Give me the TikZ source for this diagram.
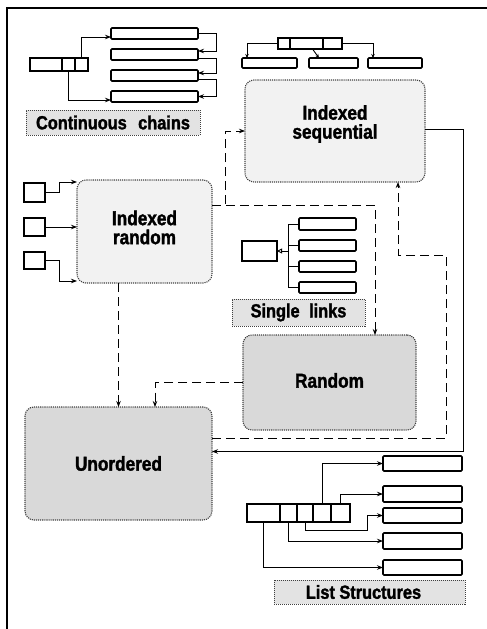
\documentclass[tikz,border=0pt]{standalone}
\usepackage{fontspec}
\newfontfamily\labfont[FakeStretch=0.86,FakeBold=1.6]{Liberation Sans Bold}
\usetikzlibrary{arrows.meta,fit,calc}
\begin{document}
\begin{tikzpicture}[x=1pt,y=-1pt,
 conn/.style={line width=0.9pt},
 arr/.style={conn,-{Stealth[length=6pt,width=4.5pt]}},
 sarr/.style={conn,-{Stealth[length=4pt,width=3.5pt]}},
 openarr/.style={conn,-{Triangle[open,length=5pt,width=5pt]}},
 dsh/.style={conn,dash pattern=on 9pt off 5pt},
 darr/.style={dsh,-{Stealth[length=6pt,width=4.5pt]}},
 cellbox/.style={draw,line width=1.1pt,inner sep=0pt,outer sep=0pt},
 barbox/.style={draw,line width=1.7pt,rounded corners=1pt,inner sep=0pt,outer sep=0pt},
 bigbox/.style={draw=black!75,densely dotted,line width=1.1pt,rounded corners=9pt,inner sep=0pt,outer sep=0pt},
 bigtext/.style={font=\labfont\fontsize{20}{19}\selectfont,align=center},
 labtext/.style={font=\labfont\fontsize{19}{19}\selectfont},
 lightbox/.style={bigbox,fill=black!5},
 darkbox/.style={bigbox,fill=black!15},
 labbox/.style={draw=black!75,densely dotted,line width=1pt,fill=black!11,inner sep=0pt,outer sep=0pt},
]
\useasboundingbox (0,0) rectangle (487,629);
% frame
\draw[line width=1.3pt] (7,629) -- (7,8) -- (487,8);

% ---------- Continuous chains ----------
\node[cellbox,fit={(30,58) (62,71)}] (cc0) {};
\node[cellbox,fit={(62,58) (75,71)}] (cc1) {};
\node[cellbox,fit={(75,58) (88,71)}] (cc2) {};
\node[barbox,fit={(111,28) (198,39)}] (cb1) {};
\node[barbox,fit={(111,49) (198,60)}] (cb2) {};
\node[barbox,fit={(111,70) (198,81)}] (cb3) {};
\node[barbox,fit={(111,91) (198,102)}] (cb4) {};
\draw[arr] (cc2.north) |- ([yshift=2pt]cb1.south west);
\draw[arr] (cc1.south) |- ([yshift=2pt]cb4.south west);
\draw[arr] (cb1.east) -- ++(18,0) |- ([yshift=-2pt]cb2.north east);
\draw[arr] ([yshift=2pt]cb2.south east) -- ++(18,0) |- ([yshift=-3pt]cb3.north east);
\draw[arr] ([yshift=2pt]cb3.south east) -- ++(18,0) |- (cb4.east);
\node[labbox,fit={(26,110) (200,135)},label={[labtext]center:Continuous\hspace{0.6em}chains}] (ccl) {};

% ---------- Indexed sequential structure ----------
\node[cellbox,fit={(278,38) (290,49)}] (is0) {};
\node[cellbox,fit={(290,38) (323,49)}] (is1) {};
\node[cellbox,fit={(323,38) (342,49)}] (is2) {};
\node[barbox,fit={(242,58) (297,68)}] (isb1) {};
\node[barbox,fit={(309,58) (358,68)}] (isb2) {};
\node[barbox,fit={(368,58) (422,68)}] (isb3) {};
\draw[sarr] (is0.west) -| ([xshift=5pt]isb1.north west);
\draw[sarr] ([xshift=6pt]is1.south) -- ([xshift=10pt]isb2.north west);
\draw[sarr] (is2.east) -| ([xshift=5pt]isb3.north west);

% ---------- big boxes ----------
\node[lightbox,fit={(245,80) (425,182)},label={[bigtext,yshift=7pt]center:Indexed\\sequential}] (IS) {};
\node[lightbox,fit={(77,180) (212,283)},label={[bigtext,yshift=4pt]center:Indexed\\random}] (IR) {};
\node[darkbox,fit={(243,335) (416,430)},label={[bigtext,yshift=2pt]center:Random}] (RD) {};
\node[darkbox,fit={(25,407) (212,520)},label={[bigtext]center:Unordered}] (UO) {};

% ---------- index squares for Indexed random ----------
\node[cellbox,fit={(24,183) (45,202)}] (sq1) {};
\node[cellbox,fit={(24,218) (45,236)}] (sq2) {};
\node[cellbox,fit={(24,252) (45,269)}] (sq3) {};
\draw[arr] (sq1.east) -- ++(14,0) |- ([yshift=-2pt]IR.north west);
\draw[arr] (sq2.east) -- (sq2.east -| IR.west);
\draw[arr] (sq3.east) -- ++(14,0) |- ([yshift=2pt]IR.south west);

% ---------- Single links ----------
\node[cellbox,fit={(242,241) (277,261)}] (slb) {};
\node[barbox,fit={(299,218) (356,230)}] (sl1) {};
\node[barbox,fit={(299,240) (356,251)}] (sl2) {};
\node[barbox,fit={(299,261) (356,272)}] (sl3) {};
\node[barbox,fit={(299,282) (356,293)}] (sl4) {};
\coordinate (tr) at ([xshift=-11pt]sl1.west);
\draw[conn] (sl1.west) -- (tr) |- (sl4.west);
\draw[conn] (sl2.west) -- (sl2.west -| tr);
\draw[conn] (sl3.west) -- (sl3.west -| tr);
\draw[openarr] (tr |- slb.east) -- (slb.east);
\node[labbox,fit={(232,299) (365,326)},label={[labtext]center:Single\hspace{0.5em}links}] (sll) {};

% ---------- dashed connectors ----------
\draw[darr] ([yshift=26.5pt]IR.east) -- ++(13,0) |- (IS.west);
\draw[darr] ([yshift=26.5pt]IR.east) -| ([xshift=45.5pt]RD.north);
\draw[darr] (IR.south -| UO.north) -- (UO.north);
\draw[darr] (RD.west) -| ([xshift=36.5pt]UO.north);
\draw[darr] ([yshift=25.5pt]UO.east) -- ++(234,0) -- ++(0,-183) -| ([xshift=63pt]IS.south);
% solid connector
\draw[arr] ([yshift=2pt]IS.east) -- ++(38,0) |- ([yshift=12pt]UO.east);

% ---------- List structures ----------
\node[cellbox,fit={(247,504) (280,522)}] (ls0) {};
\node[cellbox,fit={(280,504) (297,522)}] (ls1) {};
\node[cellbox,fit={(297,504) (313,522)}] (ls2) {};
\node[cellbox,fit={(313,504) (331,522)}] (ls3) {};
\node[cellbox,fit={(331,504) (350,522)}] (ls4) {};
\node[barbox,fit={(383,456) (462,471)}] (lb1) {};
\node[barbox,fit={(383,486) (462,502)}] (lb2) {};
\node[barbox,fit={(383,508) (462,523)}] (lb3) {};
\node[barbox,fit={(383,533) (462,549)}] (lb4) {};
\node[barbox,fit={(383,560) (462,575)}] (lb5) {};
\draw[arr] (ls3.north) |- (lb1.west);
\draw[arr] (ls4.north) |- (lb2.west);
\draw[arr] (ls2.south) -- ++(0,8) -| ([xshift=-16pt]lb3.west) -- (lb3.west);
\draw[arr] (ls1.south) |- (lb4.west);
\draw[arr] (ls0.south) |- (lb5.west);
\node[labbox,fit={(274,580) (465,604)},label={[labtext,xshift=-6pt]center:List Structures}] (lsl) {};
\end{tikzpicture}
\end{document}
